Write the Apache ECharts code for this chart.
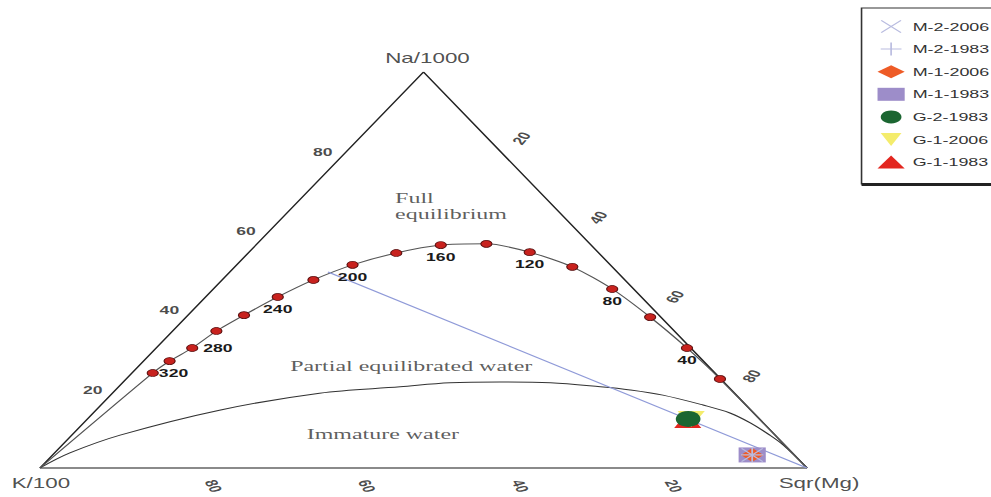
<!DOCTYPE html>
<html><head><meta charset="utf-8">
<script src="https://cdn.jsdelivr.net/npm/echarts@6/dist/echarts.min.js"></script>
<style>
html,body{margin:0;padding:0;background:#fff;overflow:hidden;width:991px;height:497px}
#chart{width:620px;height:497px;transform-origin:0 0;transform:scaleX(1.5984);}
</style></head><body><div id="chart"></div>
<script>
// ---- data (ternary percentages: Na/1000, K/100, Sqr(Mg)) ----
const vertexNames = ['K/100', 'Sqr(Mg)', 'Na/1000'];
const tickValues = [20, 40, 60, 80];

// full equilibrium curve points
const eqNa = [24.0, 27.0, 30.3, 34.6, 38.6, 43.2, 47.5, 51.3, 54.3, 56.3, 56.6, 54.5, 50.8, 45.2, 38.1, 30.3, 22.5];
const eqMg = [2.7, 3.4, 4.7, 5.7, 7.3, 9.4, 11.9, 15.1, 19.3, 24.1, 29.9, 36.6, 44.0, 52.0, 60.5, 69.2, 77.4];
const eqK  = [73.3, 69.6, 65.0, 59.7, 54.1, 47.4, 40.6, 33.6, 26.4, 19.6, 13.5, 8.9, 5.2, 2.8, 1.4, 0.5, 0.1];
const eqLabels = ['320', '', '280', '', '', '240', '', '200', '', '160', '', '120', '', '80', '', '40', ''];

// partial equilibration curve
const pNa = [0, 3.8, 8.3, 14.6, 18.9, 20.5, 21.5, 21.7, 21.5, 20.5, 19.7, 18.4, 15.9, 13.9, 11.4, 8.3, 5.8, 0];
const pMg = [0, 2.0, 6.3, 16.1, 27.0, 36.7, 42.7, 49.1, 55.8, 62.8, 67.1, 72.0, 78.5, 83.0, 86.9, 91.0, 94.0, 100];
const pK  = [100, 94.2, 85.4, 69.3, 54.1, 42.8, 35.8, 29.2, 22.7, 16.7, 13.2, 9.6, 5.6, 3.1, 1.7, 0.7, 0.2, 0];

// mixing line
const mixNa = [49.5, 0];
const mixMg = [12.8, 100];
const mixK  = [37.7, 0];

// samples
const sampleNames = ['G-1-1983', 'G-1-2006', 'G-2-1983', 'M-1-1983', 'M-1-2006', 'M-2-1983', 'M-2-2006'];
const sampleNa = [12.1, 12.4, 12.4, 3.3, 3.3, 3.3, 3.3];
const sampleMg = [78.4, 78.7, 78.3, 91.2, 91.2, 91.2, 91.2];
const sampleK  = [9.5, 8.9, 9.3, 5.5, 5.5, 5.5, 5.5];
const legendOrder = ['M-2-2006', 'M-2-1983', 'M-1-2006', 'M-1-1983', 'G-2-1983', 'G-1-2006', 'G-1-1983'];

// region texts
const regionTexts = ['Full\nequilibrium', 'Partial equilibrated water', 'Immature water'];

// ---- helpers ----
function tern(na, k, mg) {
  const s = na + k + mg;
  return [(mg + na / 2) / s * 100, na / s * 100];
}
// offset expressed in the label's rotated frame so that the label lands at (dx, dy)
function rotOffset(dx, dy, deg) {
  const t = deg * Math.PI / 180, c = Math.cos(t), s = Math.sin(t);
  return [dx * c - dy * s, dx * s + dy * c];
}
const V = { K: tern(0, 100, 0), Mg: tern(0, 0, 100), Na: tern(100, 0, 0) };

const eqPts = eqNa.map((n, i) => tern(n, eqK[i], eqMg[i]));
const pPts = pNa.map((n, i) => tern(n, pK[i], pMg[i]));
const mixPts = mixNa.map((n, i) => tern(n, mixK[i], mixMg[i]));

const sampleStyle = {
  'G-1-1983': { symbol: 'triangle', size: [17, 16], color: '#e3261f' },
  'G-1-2006': { symbol: 'path://M0,0L10,0L5,10Z', size: [17, 16], color: '#f4ec6c' },
  'G-2-1983': { symbol: 'circle', size: [15.5, 16], color: '#1b6631' },
  'M-1-1983': { symbol: 'rect', size: [17, 15], color: '#9d8dc9' },
  'M-1-2006': { symbol: 'diamond', size: [14, 14], color: '#ee5b26' },
  'M-2-1983': { symbol: 'path://M0,4.6H10V5.4H0Z M4.6,0H5.4V10H4.6Z', size: [14, 14], color: '#b9bce0' },
  'M-2-2006': { symbol: 'path://M0,0.5L0.5,0L10,9.5L9.5,10Z M9.5,0L10,0.5L0.5,10L0,9.5Z', size: [14, 14], color: '#b9bce0' }
};

const tickFont = { fontFamily: 'Liberation Sans', fontWeight: 'bold', fontSize: 11, color: '#1a1a1a' };
const hidden = { color: 'rgba(0,0,0,0)' };
const rightRot = 60, bottomRot = -68;

const lineBase = { type: 'line', showSymbol: false, symbol: 'none', silent: true, animation: false };

const series = [
  Object.assign({}, lineBase, { data: [V.K, V.Mg], lineStyle: { color: '#8a8a8a', width: 2 } }),
  Object.assign({}, lineBase, { data: [V.K, V.Na, V.Mg], lineStyle: { color: '#222', width: 1.1 } }),
  Object.assign({}, lineBase, { data: pPts, smooth: 0.35, lineStyle: { color: '#333', width: 1 } }),
  Object.assign({}, lineBase, { data: [V.K].concat(eqPts, [V.Mg]), smooth: 0.25, lineStyle: { color: '#555', width: 1 } }),
  Object.assign({}, lineBase, { data: mixPts, lineStyle: { color: '#8f9ad8', width: 1 } }),
  {
    type: 'scatter', silent: true, animation: false, z: 3,
    symbol: 'circle', symbolSize: 7,
    itemStyle: { color: '#c8221e', borderColor: '#5a1010', borderWidth: 0.7, opacity: 1 },
    data: eqPts.map((p, i) => ({
      value: p,
      label: {
        show: eqLabels[i] !== '',
        formatter: eqLabels[i],
        position: (eqLabels[i] === '320' || eqLabels[i] === '280') ? 'right' : 'bottom',
        distance: (eqLabels[i] === '320') ? 0 : 3,
        ...tickFont
      }
    }))
  },
  // left side ticks (Na)
  {
    type: 'scatter', silent: true, animation: false, symbolSize: 1, itemStyle: hidden,
    data: tickValues.map(t => ({ value: tern(t, 100 - t, 0), name: String(t) })),
    label: { show: true, formatter: '{b}', position: 'inside', offset: [-15, 1], ...tickFont }
  },
  // right side ticks (Mg)
  {
    type: 'scatter', silent: true, animation: false, symbolSize: 1, itemStyle: hidden,
    data: tickValues.map(t => ({ value: tern(100 - t, 0, t), name: String(t) })),
    label: { show: true, formatter: '{b}', position: 'inside', offset: rotOffset(13.4, -12.8, rightRot), rotate: rightRot, ...tickFont }
  },
  // bottom ticks (K)
  {
    type: 'scatter', silent: true, animation: false, symbolSize: 1, itemStyle: hidden,
    data: tickValues.map(t => ({ value: tern(0, t, 100 - t), name: String(t) })),
    label: { show: true, formatter: '{b}', position: 'inside', offset: rotOffset(12.5, 18, bottomRot), rotate: bottomRot, ...tickFont }
  },
  // vertex labels
  {
    type: 'scatter', silent: true, animation: false, symbolSize: 1, itemStyle: hidden,
    data: [
      { value: V.K, name: vertexNames[0], label: { offset: [0.6, 15] } },
      { value: V.Mg, name: vertexNames[1], label: { offset: [7.5, 15] } },
      { value: V.Na, name: vertexNames[2], label: { offset: [2.5, -14] } }
    ],
    label: { show: true, formatter: '{b}', position: 'inside', fontFamily: 'Liberation Sans', fontSize: 14, color: '#222' }
  },
  // region texts
  {
    type: 'scatter', silent: true, animation: false, symbolSize: 1, itemStyle: hidden,
    data: [
      { value: tern(66.2, 20.6, 13.2), name: regionTexts[0], label: { align: 'left' } },
      { value: tern(25.8, 38.7, 35.5), name: regionTexts[1] },
      { value: tern(8.6, 51.0, 40.4), name: regionTexts[2] }
    ],
    label: { show: true, formatter: '{b}', position: 'inside', fontFamily: 'Liberation Serif', fontSize: 15, lineHeight: 16, color: '#333' }
  }
];

sampleNames.forEach((name, i) => {
  const st = sampleStyle[name];
  series.push({
    type: 'scatter', name: name, animation: false, z: 5,
    symbol: st.symbol, symbolSize: st.size,
    itemStyle: { color: st.color, opacity: 1 },
    data: [tern(sampleNa[i], sampleK[i], sampleMg[i])]
  });
});

const chart = echarts.init(document.getElementById('chart'), null, { renderer: 'svg' });
chart.setOption({
  animation: false,
  backgroundColor: '#fff',
  grid: { left: 25, right: 115.1, top: 72, bottom: 29 },
  xAxis: { type: 'value', min: 0, max: 100, show: false },
  yAxis: { type: 'value', min: 0, max: 100, show: false },
  legend: {
    data: legendOrder,
    orient: 'vertical', left: 544, top: 15,
    itemWidth: 17, itemHeight: 13, itemGap: 9.6, selectedMode: false,
    textStyle: { fontFamily: 'Liberation Sans', fontSize: 11.2, color: '#333' }
  },
  graphic: [
    { type: 'rect', shape: { x: 539, y: 8, width: 300, height: 176 }, style: { fill: 'none', stroke: '#333', lineWidth: 1 }, silent: true },
    { type: 'line', shape: { x1: 539, y1: 184.5, x2: 700, y2: 184.5 }, style: { stroke: '#222', lineWidth: 3 }, silent: true }
  ],
  series: series
});
</script></body></html>
